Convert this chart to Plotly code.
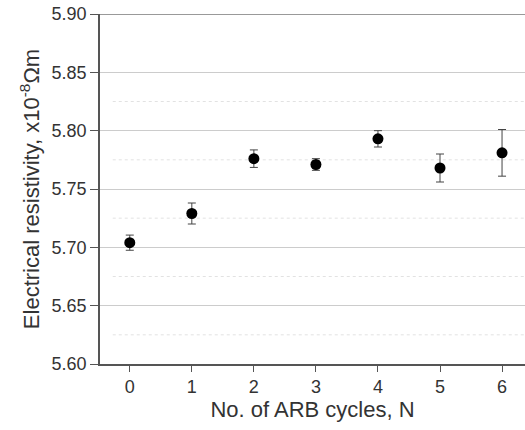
import plotly.graph_objects as go

cycles = [0, 1, 2, 3, 4, 5, 6]
resistivity = [5.704, 5.729, 5.776, 5.771, 5.793, 5.768, 5.781]
err = [0.0065, 0.009, 0.0075, 0.005, 0.007, 0.012, 0.020]
y_ticks = [5.60, 5.65, 5.70, 5.75, 5.80, 5.85, 5.90]
minor_ticks = [5.625, 5.675, 5.725, 5.775, 5.825]

fig = go.Figure()
fig.add_trace(go.Scatter(
    x=cycles, y=resistivity, mode="markers",
    marker=dict(color="black", size=11),
    error_y=dict(type="data", array=err, visible=True, color="#444444", thickness=1, width=4),
    showlegend=False,
))

for v in minor_ticks:
    fig.add_shape(type="line", xref="paper", x0=0.03, x1=1, yref="y", y0=v, y1=v,
                  line=dict(color="#e2e2e2", width=1, dash="dot"), layer="below")
fig.add_shape(type="line", xref="paper", x0=0, x1=1, yref="y", y0=5.90, y1=5.90,
              line=dict(color="#999999", width=2))

fig.update_layout(
    width=525, height=430,
    margin=dict(l=100, r=0, t=14, b=66),
    plot_bgcolor="white", paper_bgcolor="white",
    font=dict(family="Liberation Sans, Arial, sans-serif", color="#333333", size=18),
)
fig.update_xaxes(
    range=[-0.48, 6.37], tickvals=cycles, showgrid=False, zeroline=False,
    showline=True, linecolor="#555555", linewidth=1.5,
    ticks="outside", ticklen=6, tickcolor="#555555",
    title=dict(text="No. of ARB cycles, N", font=dict(size=22), standoff=4),
    tickfont=dict(size=18),
)
fig.update_yaxes(
    range=[5.60, 5.90], tickvals=y_ticks, ticktext=[f"{v:.2f}" for v in y_ticks],
    showgrid=True, gridcolor="#cccccc", gridwidth=1, zeroline=False,
    showline=True, linecolor="#555555", linewidth=1.5,
    ticks="outside", ticklen=8, tickcolor="#555555",
    title=dict(text="Electrical resistivity, x10<sup>-8</sup>Ωm", font=dict(size=22), standoff=6),
    tickfont=dict(size=18),
)
fig.write_html("out.html", config={"displayModeBar": False},
               post_script="document.body.style.margin='0';document.body.style.padding='0';")
